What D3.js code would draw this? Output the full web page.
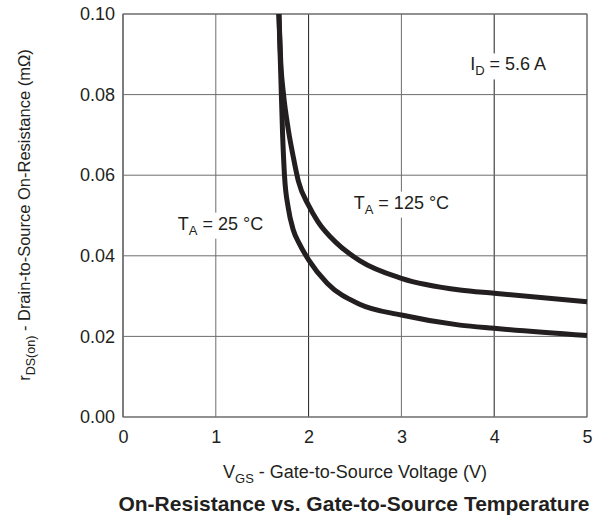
<!DOCTYPE html>
<html>
<head>
<meta charset="utf-8">
<script src="https://cdn.jsdelivr.net/npm/d3@7"></script>
<style>
    body { margin: 0; background: #fff; }
    text { font-family: "Liberation Sans", Arial, sans-serif; fill: #231f20; }
</style>
</head>
<body>
<script>
// Valeurs
const xTicks = [0, 1, 2, 3, 4, 5];
const yTicks = [0.00, 0.02, 0.04, 0.06, 0.08, 0.10];

const vgs25 = [1.68, 1.70, 1.72, 1.74, 1.78, 1.835, 1.9, 2.0, 2.2, 2.55, 3.0, 3.63, 4.0, 5.0];
const rds25 = [0.100, 0.085, 0.070, 0.060, 0.052, 0.0464, 0.043, 0.039, 0.0332, 0.0280, 0.0253, 0.0228, 0.0220, 0.0202];

const vgs125 = [1.68, 1.70, 1.73, 1.78, 1.835, 1.89, 2.0, 2.1, 2.3, 2.55, 3.0, 3.63, 4.0, 5.0];
const rds125 = [0.100, 0.088, 0.080, 0.0715, 0.0645, 0.0585, 0.0525, 0.0485, 0.0432, 0.0388, 0.0344, 0.0315, 0.0307, 0.0286];

const width = 603, height = 520;
const margin = { left: 123, right: 16, top: 14, bottom: 103 };

const svg = d3.select("body").append("svg").attr("width", width).attr("height", height);

const x = d3.scaleLinear().domain([0, 5]).range([margin.left, width - margin.right]);
const y = d3.scaleLinear().domain([0, 0.10]).range([height - margin.bottom, margin.top]);

// Grille
svg.append("g")
    .selectAll("line")
    .data(xTicks)
    .enter()
    .append("line")
    .attr("x1", (d) => x(d)).attr("x2", (d) => x(d))
    .attr("y1", y(0)).attr("y2", y(0.10))
    .style("stroke", (d) => (d % 2 === 0 ? "#231f20" : "#6d6d6d"))
    .style("stroke-width", 1);

svg.append("g")
    .selectAll("line")
    .data(yTicks)
    .enter()
    .append("line")
    .attr("x1", x(0)).attr("x2", x(5))
    .attr("y1", (d) => y(d)).attr("y2", (d) => y(d))
    .style("stroke", "#6d6d6d")
    .style("stroke-width", 1);

svg.append("rect")
    .attr("x", x(0)).attr("y", y(0.10))
    .attr("width", x(5) - x(0)).attr("height", y(0) - y(0.10))
    .style("fill", "none").style("stroke", "#6d6d6d").style("stroke-width", 1);

// Axes (labels seulement)
const xAxis = svg.append("g")
    .attr("transform", `translate(0,${y(0)})`)
    .call(d3.axisBottom(x).tickValues(xTicks).tickFormat(d3.format("d")).tickSize(0).tickPadding(13));
const yAxis = svg.append("g")
    .attr("transform", `translate(${x(0)},0)`)
    .call(d3.axisLeft(y).tickValues(yTicks).tickFormat(d3.format(".2f")).tickSize(0).tickPadding(8));
[xAxis, yAxis].forEach((a) => {
    a.select(".domain").remove();
    a.selectAll("text").style("font-size", "18px").style("font-family", "Liberation Sans, Arial, sans-serif").attr("fill", "#231f20");
});

// Étiquettes avec fond blanc
function label(cx, cy, main, sub, rest) {
    const t = svg.append("text")
        .attr("x", cx).attr("y", cy)
        .attr("text-anchor", "middle")
        .style("font-size", "18px");
    t.append("tspan").text(main);
    t.append("tspan").attr("dy", 5).style("font-size", "13px").text(sub);
    t.append("tspan").attr("dy", -5).text(rest);
    const b = t.node().getBBox();
    svg.insert("rect", () => t.node())
        .attr("x", b.x - 3).attr("y", b.y - 1)
        .attr("width", b.width + 6).attr("height", b.height + 2)
        .style("fill", "#fff");
    return t;
}

// Courbes
const line = d3.line()
    .x((d) => x(d[0]))
    .y((d) => y(d[1]))
    .curve(d3.curveMonotoneX);

[[vgs25, rds25], [vgs125, rds125]].forEach(([vx, vy]) => {
    svg.append("path")
        .datum(vx.map((v, i) => [v, vy[i]]))
        .attr("d", line)
        .style("fill", "none")
        .style("stroke", "#231f20")
        .style("stroke-width", 5);
});

label(x(1.05), y(0.0465), "T", "A", " = 25 °C");
label(x(3.0), y(0.0517), "T", "A", " = 125 °C");
label(x(4.15), y(0.086), "I", "D", " = 5.6 A");

// Titres des axes
const xl = svg.append("text")
    .attr("x", 355).attr("y", 478)
    .attr("text-anchor", "middle")
    .style("font-size", "18px");
xl.append("tspan").text("V");
xl.append("tspan").attr("dy", 5).style("font-size", "13px").text("GS");
xl.append("tspan").attr("dy", -5).text(" - Gate-to-Source Voltage (V)");

const yl = svg.append("text")
    .attr("transform", `translate(30,215) rotate(-90)`)
    .attr("text-anchor", "middle")
    .style("font-size", "16.5px");
yl.append("tspan").text("r");
yl.append("tspan").attr("dy", 5).style("font-size", "12.5px").text("DS(on)");
yl.append("tspan").attr("dy", -5).text(" - Drain-to-Source On-Resistance (mΩ)");

svg.append("text")
    .attr("x", 354).attr("y", 511)
    .attr("text-anchor", "middle")
    .style("font-size", "21px")
    .style("font-weight", "bold")
    .text("On-Resistance vs. Gate-to-Source Temperature");
</script>
</body>
</html>
